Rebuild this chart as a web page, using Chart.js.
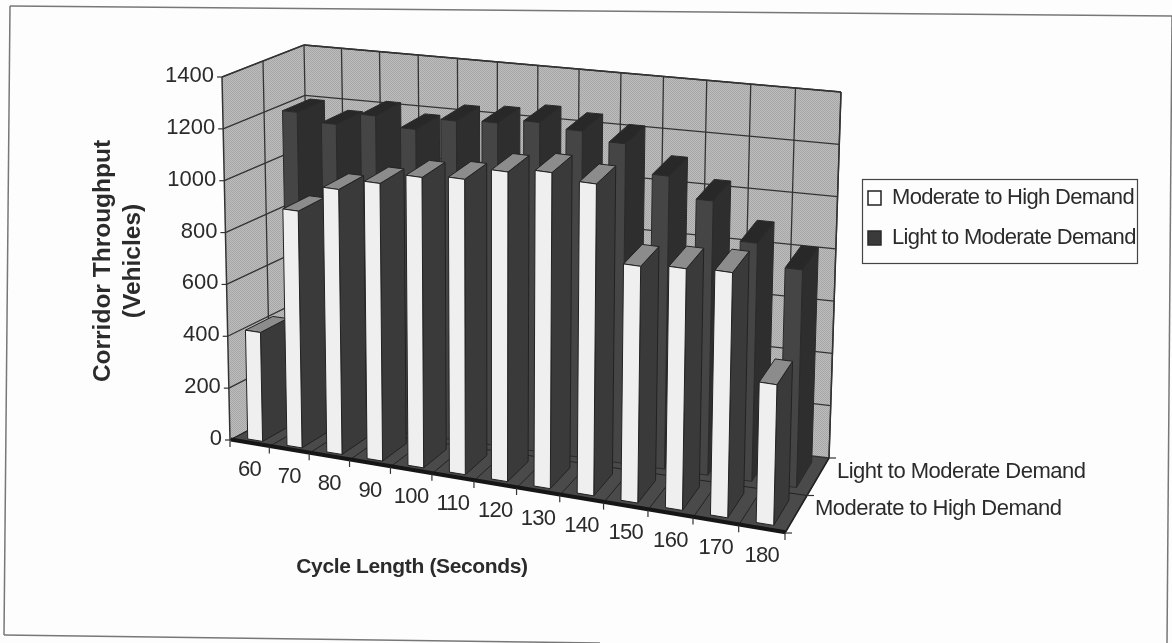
<!DOCTYPE html>
<html>
<head>
<meta charset="utf-8">
<title>Corridor Throughput</title>
<script src="https://cdn.jsdelivr.net/npm/chart.js@4"></script>
<style>
html, body { margin: 0; padding: 0; background: #fdfdfd; }
canvas { display: block; filter: blur(0.5px); }
</style>
</head>
<body>
<canvas id="myChart" width="1172" height="643"></canvas>
<script>
const cycleLabels = ['60', '70', '80', '90', '100', '110', '120', '130', '140', '150', '160', '170', '180'];
const moderateToHigh = [420, 910, 1015, 1060, 1105, 1120, 1170, 1190, 1170, 885, 900, 910, 520];
const lightToModerate = [1200, 1170, 1220, 1185, 1235, 1245, 1265, 1250, 1220, 1115, 1040, 900, 820];
const depthLabels = ['Moderate to High Demand', 'Light to Moderate Demand'];
const yTitle = ['Corridor Throughput', '(Vehicles)'];
const xTitle = 'Cycle Length (Seconds)';

const FONT = '"Liberation Sans", Arial, sans-serif';
const INK = '#2b2b2b';

// corners of the 3D box in the picture: front/back, left/right, bottom/top
const box = {
    flb: [230, 440], frb: [785, 533], blb: [311, 397], brb: [829, 458],
    flt: [222, 77], frt: [794, 153], blt: [304, 45], brt: [841, 92]
};

function lerp(a, b, t) {
    return [a[0] + (b[0] - a[0]) * t, a[1] + (b[1] - a[1]) * t];
}

// u along the categories, v along the values, w into the depth (all 0..1)
function project(u, v, w) {
    const a = 0.915 - 0.015 * w;
    const uu = a * u / (1 + (a - 1) * u);
    const bottom = lerp(lerp(box.flb, box.frb, uu), lerp(box.blb, box.brb, uu), w);
    const top = lerp(lerp(box.flt, box.frt, uu), lerp(box.blt, box.brt, uu), w);
    return lerp(bottom, top, v);
}

function poly(ctx, pts, fill, stroke, lw) {
    ctx.beginPath();
    pts.forEach((p, i) => i ? ctx.lineTo(p[0], p[1]) : ctx.moveTo(p[0], p[1]));
    ctx.closePath();
    if (fill) { ctx.fillStyle = fill; ctx.fill(); }
    if (stroke) { ctx.strokeStyle = stroke; ctx.lineWidth = lw || 1; ctx.stroke(); }
}

function line(ctx, a, b, lw, color) {
    ctx.beginPath();
    ctx.moveTo(a[0], a[1]);
    ctx.lineTo(b[0], b[1]);
    ctx.lineWidth = lw;
    ctx.strokeStyle = color || '#333';
    ctx.stroke();
}

function ditherPattern(ctx) {
    const c = document.createElement('canvas');
    c.width = 2;
    c.height = 2;
    const g = c.getContext('2d');
    g.fillStyle = '#bdbdbd';
    g.fillRect(0, 0, 2, 2);
    g.fillStyle = '#a6a6a6';
    g.fillRect(0, 0, 1, 1);
    g.fillRect(1, 1, 1, 1);
    return ctx.createPattern(c, 'repeat');
}

function drawWalls(chart) {
    const ctx = chart.ctx;
    const sy = chart.scales.y;
    const wall = ditherPattern(ctx);

    // outer frame of the scanned figure, the scan is slightly rotated
    line(ctx, [10, 6], [1172, 16], 1.5, '#777');
    line(ctx, [10, 6], [4, 635], 1.5, '#777');
    line(ctx, [1172, 16], [1167, 643], 1.5, '#777');
    line(ctx, [4, 635], [600, 643], 1.5, '#777');

    poly(ctx, [project(0, 0, 0), project(0, 1, 0), project(0, 1, 1), project(0, 0, 1)], wall);
    poly(ctx, [project(0, 0, 1), project(0, 1, 1), project(1, 1, 1), project(1, 0, 1)], wall);
    poly(ctx, [project(0, 0, 0), project(1, 0, 0), project(1, 0, 1), project(0, 0, 1)], '#4a4a4a');

    // value grid on both walls
    sy.ticks.forEach(t => {
        const v = (sy.bottom - sy.getPixelForValue(t.value)) / sy.height;
        line(ctx, project(0, v, 0), project(0, v, 1), 1.3);
        line(ctx, project(0, v, 1), project(1, v, 1), 1.3);
    });
    // category grid on the back wall and the floor
    for (let i = 0; i <= cycleLabels.length; i++) {
        const u = i / cycleLabels.length;
        line(ctx, project(u, 0, 1), project(u, 1, 1), 1.3);
        line(ctx, project(u, 0, 0), project(u, 0, 1), 1, '#222');
    }
    line(ctx, project(0, 0, 0.5), project(0, 1, 0.5), 1.3);
    line(ctx, project(0, 0, 0.5), project(1, 0, 0.5), 1, '#222');

    // box outline
    line(ctx, project(0, 0, 0), project(0, 1, 0), 1.5);
    line(ctx, project(0, 1, 0), project(0, 1, 1), 1.5);
    line(ctx, project(0, 1, 1), project(1, 1, 1), 1.5);
    line(ctx, project(1, 1, 1), project(1, 0, 1), 1.5);
    line(ctx, project(1, 0, 0), project(1, 0, 1), 1.5, '#222');
    // heavy front edge of the floor
    const e0 = project(0, 0, 0.01);
    const e1 = project(1, 0, 0.01);
    line(ctx, e0, e1, 4, '#161616');
}

const barStyles = [
    { front: '#efefef', side: '#3a3a3a', top: '#8c8c8c', edge: '#222' },
    { front: '#454545', side: '#2e2e2e', top: '#282828', edge: '#2a2a2a' }
];
const depthSlots = [[0.07, 0.41], [0.58, 0.92]];

function drawBars(chart) {
    const ctx = chart.ctx;
    const sx = chart.scales.x;
    const sy = chart.scales.y;
    // back row first, left to right so nearer bars cover the side of the previous one
    for (let d = chart.data.datasets.length - 1; d >= 0; d--) {
        const st = barStyles[d];
        const w0 = depthSlots[d][0];
        const w1 = depthSlots[d][1];
        chart.getDatasetMeta(d).data.forEach(el => {
            const u0 = (el.x - el.width / 2 - sx.left) / sx.width;
            const u1 = (el.x + el.width / 2 - sx.left) / sx.width;
            const v = (el.base - el.y) / sy.height;
            poly(ctx, [project(u1, 0, w0), project(u1, v, w0), project(u1, v, w1), project(u1, 0, w1)], st.side, st.edge, 1);
            poly(ctx, [project(u0, v, w0), project(u1, v, w0), project(u1, v, w1), project(u0, v, w1)], st.top, st.edge, 1);
            poly(ctx, [project(u0, 0, w0), project(u1, 0, w0), project(u1, v, w0), project(u0, v, w0)], st.front, st.edge, 1);
        });
    }
}

function drawLabels(chart) {
    const ctx = chart.ctx;
    const sx = chart.scales.x;
    const sy = chart.scales.y;
    ctx.save();
    ctx.fillStyle = INK;
    ctx.textBaseline = 'middle';

    // value axis
    ctx.font = '22px ' + FONT;
    ctx.letterSpacing = '0px';
    ctx.textAlign = 'right';
    sy.ticks.forEach(t => {
        const v = (sy.bottom - sy.getPixelForValue(t.value)) / sy.height;
        const p = project(0, v, 0);
        line(ctx, [p[0] - 5, p[1]], p, 1.2);
        ctx.fillText(t.label, p[0] - 8, p[1] - 1);
    });

    // category axis
    ctx.letterSpacing = '-0.7px';
    ctx.textAlign = 'center';
    sx.ticks.forEach((t, i) => {
        const a = project(i / cycleLabels.length, 0, 0);
        line(ctx, a, [a[0], a[1] + 7], 1.2);
        const p = project((i + 0.5) / cycleLabels.length, 0, 0);
        ctx.fillText(t.label, p[0], p[1] + 27);
    });
    const last = project(1, 0, 0);
    line(ctx, last, [last[0], last[1] + 7], 1.2);

    // depth axis
    ctx.letterSpacing = '-0.5px';
    ctx.textAlign = 'left';
    [0, 0.5, 1].forEach(w => {
        const p = project(1, 0, w);
        line(ctx, p, [p[0] + 7, p[1]], 1.2);
    });
    depthLabels.forEach((label, i) => {
        const p = project(1, 0, (i + 0.5) / depthLabels.length);
        ctx.fillText(label, p[0] + 19, p[1] - 5);
    });

    // axis titles
    ctx.font = 'bold 21px ' + FONT;
    ctx.letterSpacing = '-0.35px';
    ctx.textAlign = 'center';
    ctx.fillText(xTitle, 412, 567);
    ctx.save();
    ctx.font = 'bold 24.5px ' + FONT;
    ctx.letterSpacing = '0px';
    ctx.translate(103, 261);
    ctx.rotate(-Math.PI / 2);
    ctx.fillText(yTitle[0], 0, 0);
    ctx.fillText(yTitle[1], 0, 30);
    ctx.restore();

    // legend border
    ctx.strokeStyle = '#444';
    ctx.lineWidth = 1.2;
    ctx.strokeRect(862.5, 179.5, 275, 84);
    ctx.restore();
}

const box3d = {
    id: 'box3d',
    beforeLayout(chart) {
        chart.ctx.letterSpacing = '-0.7px';
    },
    afterLayout(chart) {
        const lg = chart.legend;
        lg.left = 850;
        lg.right = 1140;
        lg.top = 169;
        lg.bottom = 320;
    },
    beforeDraw(chart) {
        chart.ctx.letterSpacing = '-0.7px';
    },
    // the native bars only supply the geometry, the faces are drawn here
    beforeDatasetsDraw(chart) {
        drawWalls(chart);
        drawBars(chart);
        drawLabels(chart);
        return false;
    }
};

const myChart = new Chart(document.getElementById('myChart').getContext('2d'), {
    type: 'bar',
    data: {
        labels: cycleLabels,
        datasets: [
            { label: depthLabels[0], data: moderateToHigh, backgroundColor: '#ffffff', borderColor: '#222', borderWidth: 1.5 },
            { label: depthLabels[1], data: lightToModerate, backgroundColor: '#3a3a3a', borderColor: '#2a2a2a', borderWidth: 1.5 }
        ]
    },
    options: {
        responsive: false,
        animation: false,
        grouped: false,
        barPercentage: 0.38,
        categoryPercentage: 1,
        events: [],
        scales: {
            x: { display: false },
            y: { display: false, min: 0, max: 1400, ticks: { stepSize: 200, callback: value => String(value) } }
        },
        plugins: {
            tooltip: { enabled: false },
            legend: {
                position: 'right',
                align: 'start',
                labels: {
                    boxWidth: 13,
                    boxHeight: 14,
                    padding: 18,
                    color: INK,
                    font: { family: FONT, size: 22 }
                }
            }
        }
    },
    plugins: [box3d]
});
</script>
</body>
</html>
